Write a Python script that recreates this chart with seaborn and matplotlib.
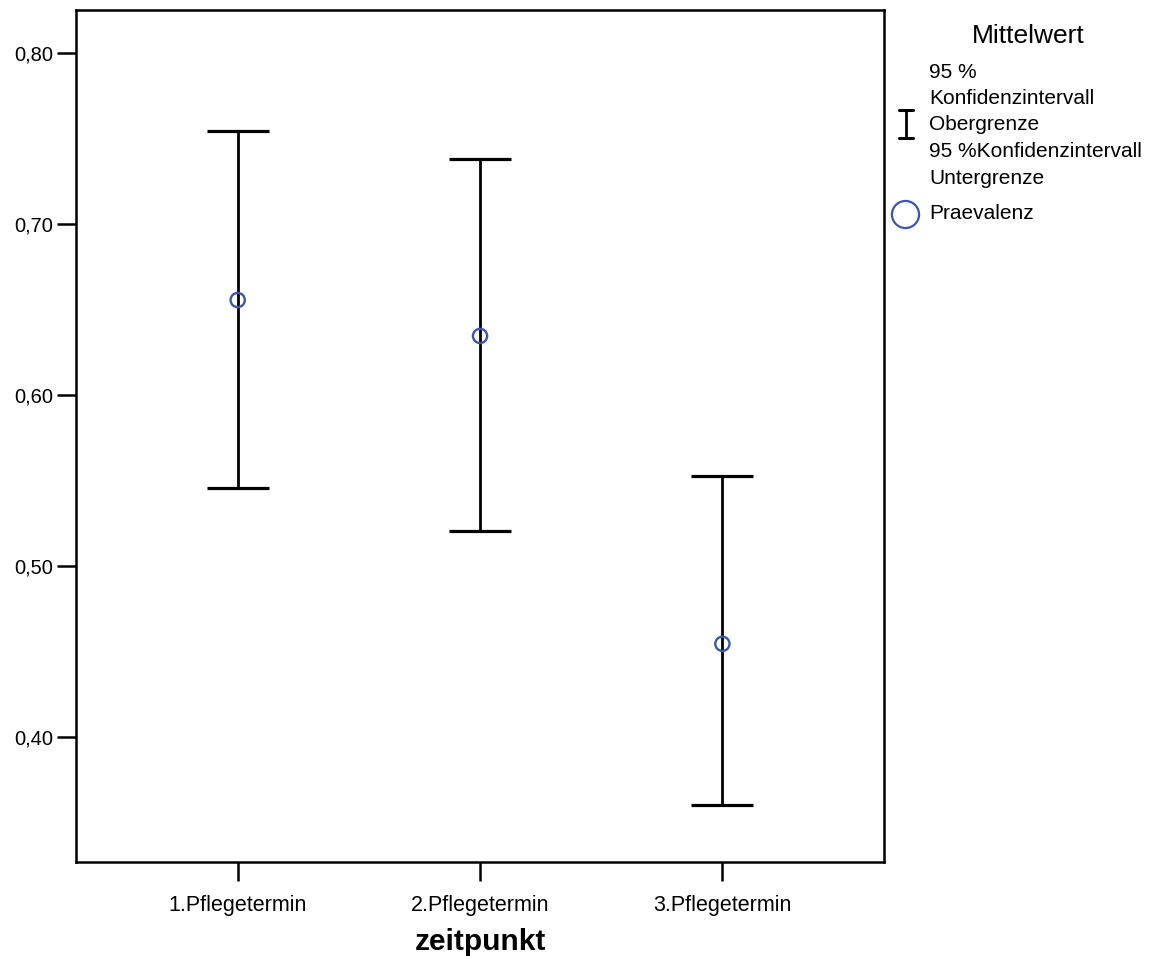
import numpy as np
import matplotlib
matplotlib.use("Agg")
import matplotlib.pyplot as plt
import seaborn as sns
import pandas as pd
from matplotlib.lines import Line2D

# Mittelwerte und 95%-Konfidenzintervalle
zeitpunkt = ["1.Pflegetermin", "2.Pflegetermin", "3.Pflegetermin"]
praevalenz = [0.6555, 0.6345, 0.4545]
ki_ober = [0.7545, 0.7380, 0.5525]
ki_unter = [0.5455, 0.5205, 0.3600]
y_ticks = [0.40, 0.50, 0.60, 0.70, 0.80]

df = pd.DataFrame({"zeitpunkt": zeitpunkt, "Praevalenz": praevalenz,
                   "ober": ki_ober, "unter": ki_unter})

sns.set_theme(style="white")
plt.rcParams["font.family"] = ["Liberation Sans", "DejaVu Sans"]
plt.rcParams.update({"text.color": "black", "axes.labelcolor": "black",
                     "xtick.color": "black", "ytick.color": "black"})
narrow = ["Liberation Sans Narrow", "Liberation Sans", "DejaVu Sans"]

fig = plt.figure(figsize=(11.52, 9.59), dpi=100)
ax = fig.add_axes([0.066, 0.1011, 0.7014, 0.8885])

xpos = np.arange(len(df))
yerr = np.vstack([df["Praevalenz"] - df["unter"], df["ober"] - df["Praevalenz"]])
ax.errorbar(xpos, df["Praevalenz"], yerr=yerr, fmt="none", ecolor="black",
            elinewidth=2.0, capsize=22, capthick=2.3, zorder=2)
sns.scatterplot(x=xpos, y=df["Praevalenz"], ax=ax, s=105, marker="o",
                facecolor="none", edgecolor="#3a55b4", linewidth=1.7, zorder=3)

ax.set_xlim(-0.667, 2.667)
ax.set_ylim(0.3269, 0.8251)
ax.set_xticks(xpos)
ax.set_xticklabels(zeitpunkt, fontsize=15.5, family=narrow)
ax.set_yticks(y_ticks)
ax.set_yticklabels([f"{v:.2f}".replace(".", ",") for v in y_ticks], fontsize=14.5)
ax.tick_params(axis="both", direction="out", length=13.5, width=1.8, color="black",
               bottom=True, left=True, pad=3)
ax.tick_params(axis="x", pad=10)
for sp in ax.spines.values():
    sp.set_color("black")
    sp.set_linewidth(1.8)
ax.set_xlabel("zeitpunkt", fontsize=21.5, fontweight="bold", family=narrow, labelpad=9)
ax.set_ylabel("")
ax.grid(False)

# Legende
fig.text(1028 / 1152, 1 - 36 / 959, "Mittelwert", fontsize=19, ha="center", va="center")
legend_lines = ["95 %", "Konfidenzintervall", "Obergrenze",
                "95 %Konfidenzintervall", "Untergrenze"]
for i, t in enumerate(legend_lines):
    fig.text(929 / 1152, 1 - (72 + i * 26.5) / 959, t, fontsize=15, ha="left", va="center")
fig.text(929 / 1152, 1 - 213 / 959, "Praevalenz", fontsize=15, ha="left", va="center")

xi = 906 / 1152
fig.add_artist(Line2D([xi, xi], [1 - 110 / 959, 1 - 138 / 959], color="black", lw=2.0))
for yy in (110, 138):
    fig.add_artist(Line2D([xi - 7 / 1152, xi + 7 / 1152], [1 - yy / 959, 1 - yy / 959],
                          color="black", lw=2.2))
fig.add_artist(Line2D([905 / 1152], [1 - 214 / 959], marker="o", markersize=19.5,
                      markerfacecolor="none", markeredgecolor="#3a55b4", markeredgewidth=1.6))

fig.savefig("out.png", dpi=100)
